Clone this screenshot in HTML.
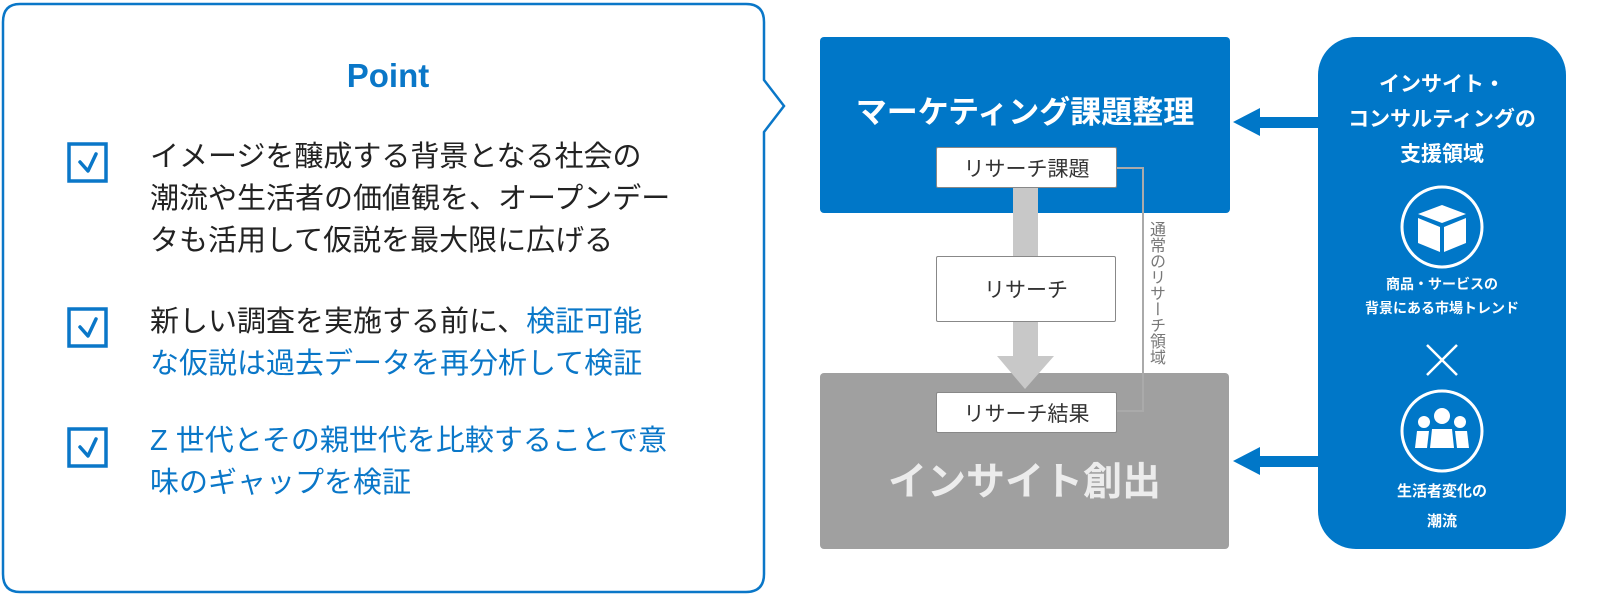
<!DOCTYPE html>
<html><head><meta charset="utf-8"><style>
html,body{margin:0;padding:0;background:#fff;}
body{width:1609px;height:614px;position:relative;overflow:hidden;font-family:"Liberation Sans","Noto Sans CJK JP",sans-serif;}
.t{position:absolute;white-space:nowrap;}
.pt{font-size:29px;line-height:42px;color:#222;left:150px;}
.b{color:#0a77c8;}
.wb{position:absolute;background:#fff;border:1px solid #888;box-sizing:border-box;font-size:21px;color:#333;display:flex;align-items:center;justify-content:center;border-radius:2px;}
</style></head><body>
<svg width="1609" height="614" style="position:absolute;left:0;top:0">
 <path d="M20 4 H746 Q764 4 764 22 V80 L784 106 L764 132 V574 Q764 592 746 592 H20 Q3 592 3 574 V22 Q3 4 20 4 Z" fill="#fff" stroke="#0a77c8" stroke-width="2.5"/>
 <g fill="none" stroke="#0a77c8" stroke-width="3.5">
  <rect x="69" y="144" width="37" height="37"/>
  <rect x="69" y="309" width="37" height="37"/>
  <rect x="69" y="429" width="37" height="37"/>
 </g>
 <g fill="none" stroke="#0a77c8" stroke-width="3.5" stroke-linecap="round" stroke-linejoin="round">
  <path d="M80 162 L88 171 L96 154"/>
  <path d="M80 327 L88 336 L96 319"/>
  <path d="M80 447 L88 456 L96 439"/>
 </g>
 <rect x="820" y="37" width="410" height="176" rx="4" fill="#0077c8"/>
 <rect x="820" y="373" width="409" height="176" rx="4" fill="#a0a0a0"/>
 <rect x="1013" y="187" width="25" height="170" fill="#c8c8c8"/>
 <polygon points="997,356 1054,356 1025,389" fill="#c8c8c8"/>
 <path d="M1117 168 H1143 V411 H1117" fill="none" stroke="#aaa" stroke-width="2"/>
 <rect x="1318" y="37" width="248" height="512" rx="38" fill="#0077c8"/>
 <g fill="#0077c8">
  <rect x="1255" y="117" width="65" height="11"/><polygon points="1233,122 1260,108 1260,136"/>
  <rect x="1255" y="456" width="65" height="11"/><polygon points="1233,461 1260,447 1260,475"/>
 </g>
 <g fill="none" stroke="#fff" stroke-width="3">
  <circle cx="1442" cy="227" r="40"/>
  <circle cx="1442" cy="431" r="40"/>
  <path d="M1427 345 L1457 375 M1457 345 L1427 375" stroke-width="2.5"/>
 </g>
 <g fill="#fff">
  <polygon points="1442,205 1466,214 1442,223 1418,214"/>
  <polygon points="1418,218 1440,227 1440,252 1418,243"/>
  <polygon points="1444,227 1466,218 1466,243 1444,252"/>
  <circle cx="1442" cy="416" r="8"/><circle cx="1424" cy="422" r="6"/><circle cx="1460" cy="422" r="6"/>
  <path d="M1430 448 L1432 429 H1452 L1454 448 Z"/>
  <path d="M1415 448 L1417 431 H1429 L1427 448 Z"/>
  <path d="M1457 448 L1455 431 H1467 L1469 448 Z"/>
 </g>
</svg>
<div class="t b" style="left:0;width:776px;text-align:center;top:57px;font-size:33px;font-weight:bold;">Point</div>
<div class="t pt" style="top:136px;">イメージを醸成する背景となる社会の<br>潮流や生活者の価値観を、オープンデー<br>タも活用して仮説を最大限に広げる</div>
<div class="t pt" style="top:301px;">新しい調査を実施する前に、<span class="b">検証可能</span><br><span class="b">な仮説は過去データを再分析して検証</span></div>
<div class="t pt b" style="top:420px;">Z 世代とその親世代を比較することで意<br>味のギャップを検証</div>
<div class="t" style="left:820px;width:410px;text-align:center;top:87px;font-size:31px;font-weight:bold;color:#fff;">マーケティング課題整理</div>
<div class="wb" style="left:936px;top:147px;width:181px;height:41px;">リサーチ課題</div>
<div class="wb" style="left:936px;top:256px;width:180px;height:66px;">リサーチ</div>
<div class="wb" style="left:936px;top:392px;width:181px;height:41px;">リサーチ結果</div>
<div class="t" style="left:820px;width:409px;text-align:center;top:451px;font-size:39px;font-weight:bold;color:#ececec;">インサイト創出</div>
<div class="t" style="left:1147px;top:221px;font-size:16px;line-height:17px;color:#777;writing-mode:vertical-rl;">通常のリサーチ領域</div>
<div class="t" style="left:1318px;width:248px;text-align:center;top:67px;font-size:21px;line-height:35px;font-weight:bold;color:#fff;">インサイト・<br>コンサルティングの<br>支援領域</div>
<div class="t" style="left:1318px;width:248px;text-align:center;top:272px;font-size:14px;line-height:24px;font-weight:bold;color:#fff;">商品・サービスの<br>背景にある市場トレンド</div>
<div class="t" style="left:1318px;width:248px;text-align:center;top:477px;font-size:15px;line-height:30px;font-weight:bold;color:#fff;">生活者変化の<br>潮流</div>
</body></html>
